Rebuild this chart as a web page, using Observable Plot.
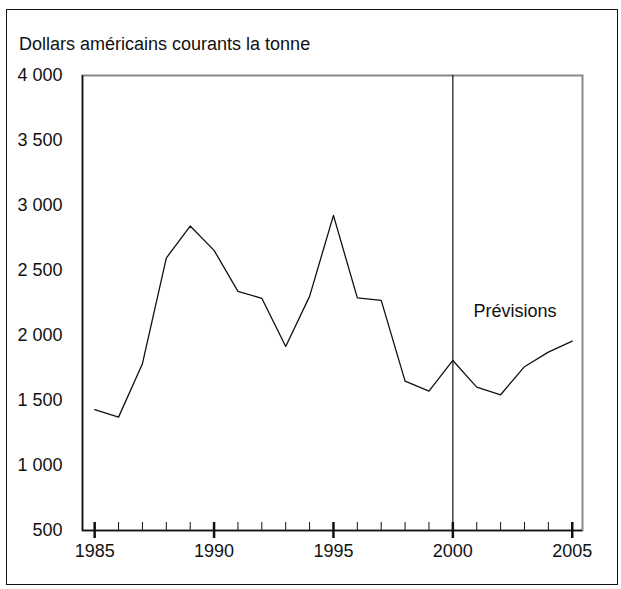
<!DOCTYPE html>
<html>
<head>
<meta charset="utf-8">
<script src="https://cdn.jsdelivr.net/npm/d3@7"></script>
<script src="https://cdn.jsdelivr.net/npm/@observablehq/plot@0.6"></script>
<style>
  html, body { margin: 0; padding: 0; background: #fff; }
  #wrap { position: relative; width: 621px; height: 589px; font-family: "Liberation Sans", Arial, sans-serif; }
  #border { position: absolute; left: 6px; top: 9px; width: 612px; height: 576px; border: 1.5px solid #111; box-sizing: border-box; }
  #title { position: absolute; left: 19px; top: 35px; font-size: 18px; line-height: 18px; color: #111; white-space: nowrap; }
  #chart { position: absolute; left: 0; top: 0; }
</style>
</head>
<body>
<div id="wrap">
  <div id="border"></div>
  <div id="chart"></div>
  <div id="title">Dollars américains courants la tonne</div>
</div>
<script>
// Data
const years = [1985,1986,1987,1988,1989,1990,1991,1992,1993,1994,1995,1996,1997,1998,1999,2000,2001,2002,2003,2004,2005];
const prices = [1429,1372,1783,2596,2842,2655,2340,2286,1916,2301,2924,2289,2270,1649,1572,1808,1603,1544,1760,1872,1957];
const yTicks = [500,1000,1500,2000,2500,3000,3500,4000];
const xMajorTicks = [1985,1990,1995,2000,2005];
const forecastStart = 2000;
const annotations = [{year: 2002.6, value: 2190, label: "Prévisions"}];
const xDomain = [1984.49, 2005.43];
const yDomain = [500, 4000];

const data = years.map((y, i) => ({year: y, value: prices[i]}));
const fmt = d3.formatLocale({decimal: ",", thousands: " ", grouping: [3], currency: ["", ""]}).format(",");

const chart = Plot.plot({
  width: 621,
  height: 589,
  marginLeft: 82,
  marginRight: 39,
  marginTop: 75,
  marginBottom: 59,
  style: {fontFamily: "'Liberation Sans', Arial, sans-serif", fontSize: "18px", color: "#111", background: "transparent"},
  x: {domain: xDomain},
  y: {domain: yDomain},
  marks: [
    Plot.frame({stroke: "#888", strokeWidth: 2}),
    Plot.ruleX([xDomain[0]], {stroke: "#111", strokeWidth: 1.5}),
    Plot.ruleY([yDomain[0]], {stroke: "#111", strokeWidth: 1.5}),
    Plot.ruleX([forecastStart], {stroke: "#111", strokeWidth: 1.2}),
    Plot.axisY({ticks: yTicks, tickSize: 0, tickPadding: 20, tickFormat: fmt, label: null, fontSize: 18}),
    Plot.axisX({ticks: years, tickSize: 8, dy: -8, tickFormat: () => "", label: null, stroke: "#111", strokeWidth: 1}),
    Plot.axisX({ticks: xMajorTicks, tickSize: 16, dy: -8, tickFormat: () => "", label: null, stroke: "#111", strokeWidth: 2.5}),
    Plot.axisX({ticks: xMajorTicks, tickSize: 0, tickPadding: 14, tickFormat: "d", label: null, fontSize: 18}),
    Plot.line(data, {x: "year", y: "value", stroke: "#111", strokeWidth: 1.3}),
    Plot.text(annotations, {x: "year", y: "value", text: "label", fontSize: 18, fill: "#111", textAnchor: "middle"})
  ]
});
document.getElementById("chart").appendChild(chart);
</script>
</body>
</html>
